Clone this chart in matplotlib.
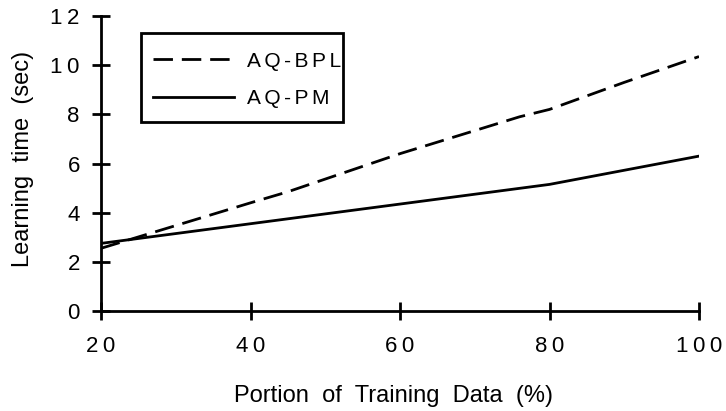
import matplotlib
matplotlib.use("Agg")
import matplotlib.pyplot as plt
from matplotlib.patches import Rectangle

plt.rcParams['font.family'] = ['Liberation Sans', 'DejaVu Sans']

# learning time vs. portion of training data
bpl_x = [20, 40, 45, 60, 76, 80, 90, 100]
bpl_y = [2.55, 4.4, 4.85, 6.4, 7.9, 8.2, 9.3, 10.35]
pm_x = [20, 60, 80, 100]
pm_y = [2.75, 4.35, 5.15, 6.3]

x_ticks = [20, 40, 60, 80, 100]
y_ticks = [0, 2, 4, 6, 8, 10, 12]


def spaced(s, gap='\u2009'):
    # loose letter spacing via narrow spaces
    return gap.join(s)


fig = plt.figure(figsize=(7.26, 4.11), dpi=100)
ax = fig.add_axes([101 / 726, 100 / 411, 598 / 726, 295 / 411])

ax.plot(bpl_x, bpl_y, color='black', lw=2, dashes=(7, 3.2),
        label=spaced('AQ-BPL', '\u2006'))
ax.plot(pm_x, pm_y, color='black', lw=2, label=spaced('AQ-PM', '\u2006'))

ax.set_xlim(20, 100)
ax.set_ylim(0, 12)
ax.set_xticks(x_ticks)
ax.set_yticks(y_ticks)
ax.set_xticklabels([spaced(str(v)) for v in x_ticks])
ax.set_yticklabels([spaced(str(v)) for v in y_ticks])

for side in ('top', 'right'):
    ax.spines[side].set_visible(False)
for side in ('left', 'bottom'):
    ax.spines[side].set_linewidth(2)
    ax.spines[side].set_clip_on(False)

ax.tick_params(direction='inout', length=12.5, width=2, labelsize=16)
ax.tick_params(axis='x', pad=12)
ax.tick_params(axis='y', pad=9)
ax.set_xlabel('Portion  of  Training  Data  (%)', fontsize=17, labelpad=20)
ax.set_ylabel('Learning  time  (sec)', fontsize=17, labelpad=12)
ax.xaxis.label.set_x(0.489)
ax.yaxis.label.set_y(0.515)

# legend without its own frame; box drawn separately with a tight right edge
leg = ax.legend(loc='upper left', bbox_to_anchor=(0.087, 0.879), fontsize=15,
                frameon=False, handlelength=3.9, handletextpad=0.62,
                borderpad=0, labelspacing=0.88, borderaxespad=0)
ax.add_patch(Rectangle((0.067, 0.641), 0.338, 0.302, transform=ax.transAxes,
                       fill=False, edgecolor='black', lw=2, clip_on=False))

fig.savefig('out.png', dpi=100)
